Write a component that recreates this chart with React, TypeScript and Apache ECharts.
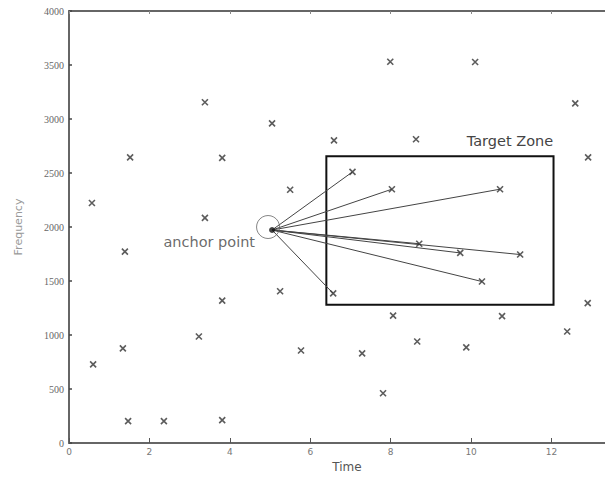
import React, { useEffect, useRef } from "react";
import * as echarts from "echarts";

// Points that are linked to the anchor (inside the target zone)
const targetX = [7.05, 8.03, 10.72, 8.71, 9.73, 11.22, 10.27, 6.57];
const targetY = [2510, 2350, 2350, 1845, 1760, 1745, 1495, 1385];

// Other scattered points
const otherX = [7.99, 10.1, 3.38, 12.59, 5.05, 1.52, 3.81, 6.59, 8.63, 12.91, 5.5, 0.57, 3.38, 1.39, 5.25, 3.81, 12.9, 8.06, 10.77, 12.39, 3.23, 1.34, 5.77, 8.66, 7.29, 9.88, 0.6, 7.81, 1.47, 2.36, 3.81];
const otherY = [3530, 3528, 3155, 3145, 2960, 2645, 2640, 2802, 2812, 2645, 2345, 2222, 2085, 1772, 1405, 1318, 1295, 1180, 1175, 1032, 986, 876, 857, 940, 830, 885, 728, 461, 203, 203, 212];

// Anchor point
const anchorX = 5.05;
const anchorY = 1972;

// Target zone bounds
const zoneX = [6.4, 12.05];
const zoneY = [1280, 2655];

const X_MIN = 0;
const X_MAX = 13.33;
const X_INTERVAL = 2;
const Y_MIN = 0;
const Y_MAX = 4000;
const Y_INTERVAL = 500;

const xMark = "path://M0,0L10,10M10,0L0,10";

export default function App() {
  const ref = useRef<HTMLDivElement>(null);
  useEffect(() => {
    document.body.style.margin = "0";
    document.body.style.overflow = "hidden";
    if (!ref.current) return;
    const chart = echarts.init(ref.current, null, { renderer: "svg" });
    const markerStyle = { color: "transparent", borderColor: "#333", borderWidth: 1.6 };
    chart.setOption({
      animation: false,
      backgroundColor: "#ffffff",
      grid: { left: 69, top: 11, right: 0, bottom: 33, containLabel: false },
      xAxis: [
        {
          type: "value",
          min: X_MIN,
          max: X_MAX,
          interval: X_INTERVAL,
          position: "bottom",
          name: "Time",
          nameLocation: "middle",
          nameGap: 18,
          nameTextStyle: { color: "#555", fontSize: 12, fontFamily: "DejaVu Sans", padding: [0, 0, 0, 20] },
          axisLine: { show: true, onZero: false, lineStyle: { color: "#666", width: 2 } },
          axisTick: { show: true, inside: true, length: 5, lineStyle: { color: "#555", width: 1 } },
          axisLabel: { color: "#777", fontSize: 9, fontFamily: "DejaVu Sans", margin: 4, showMaxLabel: false },
          splitLine: { show: false },
        },
        {
          type: "value",
          min: X_MIN,
          max: X_MAX,
          interval: X_INTERVAL,
          position: "top",
          axisLine: { show: true, onZero: false, lineStyle: { color: "#666", width: 2 } },
          axisTick: { show: true, inside: true, length: 3, lineStyle: { color: "#888", width: 1 } },
          axisLabel: { show: false },
          splitLine: { show: false },
        },
      ],
      yAxis: {
        type: "value",
        min: Y_MIN,
        max: Y_MAX,
        interval: Y_INTERVAL,
        name: "Frequency",
        nameLocation: "middle",
        nameGap: 45,
        nameTextStyle: { color: "#999", fontSize: 11, fontFamily: "DejaVu Sans" },
        axisLine: { show: true, onZero: false, lineStyle: { color: "#666", width: 2 } },
        axisTick: { show: true, inside: true, length: 3, lineStyle: { color: "#444", width: 1.5 } },
        axisLabel: {
          color: "#666",
          fontSize: 10,
          fontFamily: "Liberation Serif",
          margin: 5,
          formatter: (v: number) => String(v),
        },
        splitLine: { show: false },
      },
      series: [
        {
          type: "lines",
          coordinateSystem: "cartesian2d",
          xAxisIndex: 0,
          yAxisIndex: 0,
          silent: true,
          lineStyle: { color: "#444", width: 1, opacity: 1, curveness: 0 },
          data: targetX.map((x, i) => ({ coords: [[anchorX, anchorY], [x, targetY[i]]] })),
        },
        {
          type: "scatter",
          name: "others",
          symbol: xMark,
          symbolSize: 6,
          itemStyle: markerStyle,
          data: otherX.map((x, i) => [x, otherY[i]]),
        },
        {
          type: "scatter",
          name: "targets",
          symbol: xMark,
          symbolSize: 6,
          itemStyle: markerStyle,
          data: targetX.map((x, i) => [x, targetY[i]]),
          markArea: {
            silent: true,
            itemStyle: { color: "rgba(0,0,0,0)", borderColor: "#111", borderWidth: 2 },
            label: {
              show: true,
              position: "top",
              distance: 7,
              offset: [70, 0],
              color: "#444",
              fontSize: 14.5,
              fontFamily: "DejaVu Sans",
            },
            data: [
              [
                { name: "Target Zone", coord: [zoneX[0], zoneY[1]] },
                { coord: [zoneX[1], zoneY[0]] },
              ],
            ],
          },
        },
        {
          type: "scatter",
          name: "anchor ring",
          symbol: "circle",
          symbolSize: 23,
          symbolOffset: [-4, -3],
          silent: true,
          itemStyle: { color: "transparent", borderColor: "#666", borderWidth: 1 },
          data: [[anchorX, anchorY]],
        },
        {
          type: "scatter",
          name: "anchor",
          symbol: "circle",
          symbolSize: 6,
          itemStyle: { color: "#111" },
          label: {
            show: true,
            position: "left",
            distance: 14,
            offset: [0, 12],
            formatter: "anchor point",
            color: "#444",
            fontSize: 14.5,
            fontFamily: "DejaVu Sans",
          },
          data: [[anchorX, anchorY]],
        },
      ],
    });
    return () => chart.dispose();
  }, []);
  return <div ref={ref} style={{ width: 605, height: 478 }} />;
}
